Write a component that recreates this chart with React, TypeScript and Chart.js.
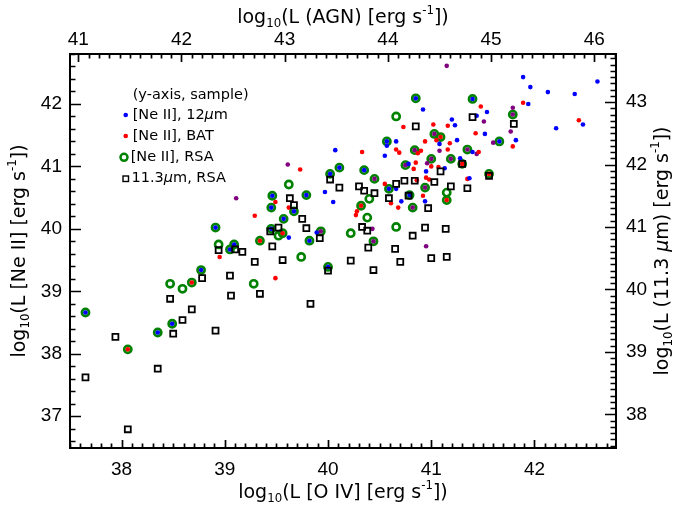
import React, { useEffect, useRef } from 'react';
import { Chart, registerables } from 'chart.js';

Chart.register(...registerables);

// ---------- axes ----------
const X_TICKS = [38, 39, 40, 41, 42];
const X2_TICKS = [41, 42, 43, 44, 45, 46];
const Y_TICKS = [37, 38, 39, 40, 41, 42];
const Y2_TICKS = [38, 39, 40, 41, 42, 43];

const X_MIN = 37.5, X_MAX = 42.79;
const X2_MIN = 40.92, X2_MAX = 46.21;
const Y_MIN = 36.49, Y_MAX = 42.8;
const Y2_MIN = 37.46, Y2_MAX = 43.77;

const X_TITLE = [{ t: 'log' }, { t: '10', k: 'sub' }, { t: '(L [O IV] [erg s' }, { t: '-1', k: 'sup' }, { t: '])' }];
const X2_TITLE = [{ t: 'log' }, { t: '10', k: 'sub' }, { t: '(L (AGN) [erg s' }, { t: '-1', k: 'sup' }, { t: '])' }];
const Y_TITLE = [{ t: 'log' }, { t: '10', k: 'sub' }, { t: '(L [Ne II] [erg s' }, { t: '-1', k: 'sup' }, { t: '])' }];
const Y2_TITLE = [{ t: 'log' }, { t: '10', k: 'sub' }, { t: '(L (11.3 ' }, { t: 'μ', k: 'it' }, { t: 'm) [erg s' }, { t: '-1', k: 'sup' }, { t: '])' }];

const LEGEND_TITLE = '(y-axis, sample)';
const LEGEND_12UM = [{ t: '[Ne II], 12' }, { t: 'μ', k: 'it' }, { t: 'm' }];
const LEGEND_BAT = [{ t: '[Ne II], BAT' }];
const LEGEND_RSA = [{ t: '[Ne II], RSA' }];
const LEGEND_PAH = [{ t: '11.3' }, { t: 'μ', k: 'it' }, { t: 'm, RSA' }];

// ---------- data: [log L(O IV), log L] ----------
// [Ne II], RSA sample (green rings)
const NEII_RSA: [number, number][] = [
  [37.65, 38.66], [38.06, 38.07], [38.35, 38.34], [38.47, 39.12], [38.49, 38.48], [38.59, 39.04],
  [38.68, 39.14], [38.77, 39.34], [38.94, 39.75], [38.91, 40.02], [39.05, 39.67], [39.09, 39.75],
  [39.46, 40.53], [39.79, 40.54], [39.45, 40.34], [39.67, 40.28], [39.57, 40.16], [39.45, 40.0],
  [39.52, 39.89], [39.56, 39.93], [39.93, 39.96], [39.82, 39.81], [39.34, 39.81], [39.74, 39.55],
  [40.0, 39.39], [39.28, 39.12], [39.62, 40.71], [40.02, 40.88], [40.11, 40.98], [40.85, 42.09],
  [41.4, 42.08], [40.66, 41.8], [41.03, 41.52], [41.09, 41.47], [40.57, 41.4], [40.84, 41.26],
  [41.35, 41.27], [41.0, 41.12], [41.19, 41.12], [40.75, 41.02], [41.3, 41.04], [40.35, 40.94],
  [40.45, 40.8], [40.59, 40.64], [40.94, 40.66], [40.4, 40.48], [40.79, 40.54], [40.82, 40.34],
  [41.15, 40.58], [41.15, 40.46], [40.32, 40.37], [40.38, 40.18], [40.66, 40.03], [40.22, 39.93],
  [40.44, 39.8], [41.79, 41.83], [41.66, 41.4], [41.56, 40.88],
];

// [Ne II], 12um sample (blue)
const NEII_12UM: [number, number][] = [
  [37.65, 38.66], [38.35, 38.34], [38.49, 38.48], [38.77, 39.34], [38.91, 40.02], [39.05, 39.67],
  [39.09, 39.75], [39.46, 40.53], [39.79, 40.54], [39.45, 40.34], [39.67, 40.28], [39.57, 40.16],
  [39.45, 40.0], [39.82, 39.81], [40.0, 39.39], [40.02, 40.88], [40.11, 40.98], [40.85, 42.09],
  [41.4, 42.08], [40.57, 41.4], [40.35, 40.94], [40.59, 40.64], [40.79, 40.54], [41.66, 41.4],
  [39.97, 40.59], [40.05, 40.43], [39.62, 39.86], [39.89, 39.94], [40.07, 41.26], [40.92, 41.91],
  [41.2, 41.75], [41.23, 41.66], [41.44, 41.81], [41.08, 41.36], [41.25, 41.42], [40.57, 41.33],
  [40.66, 41.4], [41.4, 41.23], [40.55, 41.17], [41.28, 41.13], [41.13, 40.97], [40.78, 41.04],
  [40.95, 40.92], [41.37, 40.81], [40.66, 40.64], [40.71, 40.44], [40.94, 40.44], [41.89, 42.43],
  [42.61, 42.36], [41.96, 42.27], [42.13, 42.19], [42.39, 42.16], [41.94, 42.0], [41.54, 41.87],
  [42.47, 41.67], [42.21, 41.61], [41.52, 41.52], [41.82, 41.42],
];

// [Ne II], BAT sample (red)
const NEII_BAT: [number, number][] = [
  [38.06, 38.07], [38.68, 39.14], [39.56, 39.93], [39.34, 39.81], [41.09, 41.47], [41.3, 41.04],
  [41.15, 40.46], [40.32, 40.37], [41.56, 40.88], [39.73, 40.95], [39.49, 40.43], [39.62, 40.34],
  [39.29, 40.21], [38.95, 39.55], [39.49, 39.21], [40.73, 41.63], [41.02, 41.67], [41.16, 41.65],
  [41.48, 41.96], [41.43, 41.53], [41.05, 41.42], [41.18, 41.37], [40.94, 41.4], [41.16, 41.27],
  [40.33, 41.23], [40.66, 41.27], [40.69, 41.22], [40.87, 41.21], [40.9, 41.25], [40.85, 41.06],
  [41.0, 41.0], [41.07, 40.99], [40.83, 40.96], [40.95, 40.82], [40.98, 40.79], [41.35, 40.8],
  [40.55, 40.72], [40.86, 40.78], [40.92, 40.53], [40.61, 40.41], [40.68, 40.34], [40.28, 40.28],
  [40.27, 40.22], [41.89, 42.02], [42.43, 41.74], [41.79, 41.32], [41.46, 41.23],
];

// [Ne II], in both 12um and BAT samples (purple)
const NEII_BOTH: [number, number][] = [
  [39.93, 39.96], [41.03, 41.52], [40.84, 41.26], [41.35, 41.27], [41.0, 41.12], [41.19, 41.12],
  [40.75, 41.02], [40.45, 40.8], [40.94, 40.66], [40.82, 40.34], [40.44, 39.8], [41.79, 41.83],
  [39.61, 41.03], [39.11, 40.49], [41.15, 42.61], [41.08, 41.25], [41.44, 41.2], [40.96, 41.05],
  [40.43, 40.0], [40.95, 39.72], [41.79, 41.94], [41.51, 41.72], [41.77, 41.56], [41.6, 41.38],
];

// 11.3um PAH, RSA sample (squares, right axis)
const PAH_RSA: [number, number][] = [
  [37.65, 38.59], [37.94, 39.24], [38.06, 37.76], [38.35, 38.73], [38.47, 39.85], [38.5, 39.29],
  [38.59, 39.51], [38.68, 39.68], [38.78, 40.18], [38.91, 39.34], [38.94, 40.63], [39.05, 40.22],
  [39.06, 39.9], [40.02, 41.76], [40.11, 41.63], [39.63, 41.46], [39.67, 41.35], [39.75, 41.13],
  [39.44, 40.93], [39.52, 40.99], [39.79, 40.98], [39.92, 40.82], [39.1, 40.64], [39.17, 40.6],
  [39.46, 40.69], [39.56, 40.47], [39.29, 40.44], [40.0, 40.3], [39.34, 39.93], [39.83, 39.77],
  [40.85, 42.61], [41.4, 42.76], [41.3, 42.01], [41.09, 41.89], [40.3, 41.65], [40.35, 41.58],
  [40.45, 41.54], [40.59, 41.46], [40.66, 41.69], [40.74, 41.74], [40.84, 41.74], [41.03, 41.72],
  [41.19, 41.65], [41.35, 41.62], [40.78, 41.5], [40.97, 41.3], [40.33, 41.0], [40.38, 40.94],
  [40.94, 40.99], [41.14, 40.97], [40.82, 40.86], [40.39, 40.67], [40.65, 40.65], [40.22, 40.46],
  [40.7, 40.44], [41.0, 40.5], [41.15, 40.52], [40.44, 40.31], [41.8, 42.65], [41.56, 41.82],
];

// ---------- styles ----------
const BLUE = '#0000ff';
const RED = '#ff0000';
const PURPLE = '#800080';
const GREEN = '#008200';
const TICK_FONT = 'Liberation Sans';
const TITLE_FONT = 'DejaVu Sans';

type Seg = { t: string; k?: string };

function drawRich(ctx: CanvasRenderingContext2D, segs: Seg[], x: number, y: number, size: number, align: 'center' | 'left', rotate: boolean) {
  const fontFor = (k?: string) =>
    k === 'sub' || k === 'sup' ? `${size * 0.62}px "${TITLE_FONT}"` : k === 'it' ? `italic ${size}px "${TITLE_FONT}"` : `${size}px "${TITLE_FONT}"`;
  const widths = segs.map((s) => {
    ctx.font = fontFor(s.k);
    return ctx.measureText(s.t).width;
  });
  const total = widths.reduce((a, b) => a + b, 0);
  ctx.save();
  ctx.translate(x, y);
  if (rotate) ctx.rotate(-Math.PI / 2);
  ctx.textBaseline = 'middle';
  ctx.textAlign = 'left';
  ctx.fillStyle = '#000';
  let cx = align === 'center' ? -total / 2 : 0;
  segs.forEach((s, i) => {
    ctx.font = fontFor(s.k);
    const dy = s.k === 'sub' ? size * 0.3 : s.k === 'sup' ? -size * 0.36 : 0;
    ctx.fillText(s.t, cx, dy);
    cx += widths[i];
  });
  ctx.restore();
}

const framePlugin = {
  id: 'idlFrame',
  afterDraw(chart: any) {
    const ctx: CanvasRenderingContext2D = chart.ctx;
    const { left, right, top, bottom } = chart.chartArea;
    ctx.save();
    ctx.strokeStyle = '#000';
    ctx.lineWidth = 2;
    ctx.strokeRect(left, top, right - left, bottom - top);

    ctx.lineWidth = 1.7;
    const ticks = (scale: any, step: number, perMajor: number, majLen: number, minLen: number, side: string) => {
      const i0 = Math.ceil(scale.min / step - 1e-6);
      const i1 = Math.floor(scale.max / step + 1e-6);
      ctx.beginPath();
      for (let i = i0; i <= i1; i++) {
        const v = i * step;
        const len = i % perMajor === 0 ? majLen : minLen;
        const p = Math.round(scale.getPixelForValue(v)) + 0.5;
        if (side === 'bottom') { ctx.moveTo(p, bottom); ctx.lineTo(p, bottom - len); }
        if (side === 'top') { ctx.moveTo(p, top); ctx.lineTo(p, top + len); }
        if (side === 'left') { ctx.moveTo(left, p); ctx.lineTo(left + len, p); }
        if (side === 'right') { ctx.moveTo(right, p); ctx.lineTo(right - len, p); }
      }
      ctx.stroke();
    };
    ticks(chart.scales.x, 0.1, 10, 8, 4.5, 'bottom');
    ticks(chart.scales.x2, 0.1, 10, 8, 4.5, 'top');
    ticks(chart.scales.y, 0.2, 5, 11, 5.5, 'left');
    ticks(chart.scales.y2, 0.1, 10, 11, 5.5, 'right');

    const cxm = (left + right) / 2;
    const cym = (top + bottom) / 2;
    drawRich(ctx, X_TITLE, cxm, 493, 19, 'center', false);
    drawRich(ctx, X2_TITLE, cxm, 18, 19, 'center', false);
    drawRich(ctx, Y_TITLE, 20, cym, 19, 'center', true);
    drawRich(ctx, Y2_TITLE, 663, cym, 19, 'center', true);

    // legend
    const lx = 132.7;
    drawRich(ctx, [{ t: LEGEND_TITLE }], lx, 95.7, 14.5, 'left', false);
    ctx.fillStyle = BLUE;
    ctx.beginPath(); ctx.arc(125.7, 115, 2.3, 0, Math.PI * 2); ctx.fill();
    drawRich(ctx, LEGEND_12UM, lx, 115, 14.5, 'left', false);
    ctx.fillStyle = RED;
    ctx.beginPath(); ctx.arc(125.7, 136, 2.3, 0, Math.PI * 2); ctx.fill();
    drawRich(ctx, LEGEND_BAT, lx, 136, 14.5, 'left', false);
    ctx.strokeStyle = GREEN;
    ctx.lineWidth = 2.5;
    ctx.beginPath(); ctx.arc(124, 157.3, 3.5, 0, Math.PI * 2); ctx.stroke();
    drawRich(ctx, LEGEND_RSA, 130.7, 157.3, 14.5, 'left', false);
    ctx.strokeStyle = '#000';
    ctx.lineWidth = 1.4;
    ctx.strokeRect(123, 176, 5.5, 5.5);
    drawRich(ctx, LEGEND_PAH, 131.5, 178.7, 14.5, 'left', false);
    ctx.restore();
  },
};

const toPts = (a: [number, number][]) => a.map(([x, y]) => ({ x, y }));

const tickOpts = (padding: number) => ({
  color: '#000',
  font: { family: TICK_FONT, size: 19 },
  padding,
  autoSkip: false,
  maxRotation: 0,
  minRotation: 0,
});

const setTicks = (vals: number[]) => (scale: any) => {
  scale.ticks = vals.map((v) => ({ value: v }));
};

export default function App() {
  const ref = useRef<HTMLCanvasElement>(null);
  useEffect(() => {
    const chart = new Chart(ref.current as HTMLCanvasElement, {
      type: 'scatter',
      data: {
        datasets: [
          {
            label: '11.3um, RSA', data: toPts(PAH_RSA), yAxisID: 'y2', xAxisID: 'x',
            pointStyle: 'rect', pointRadius: 4.2, borderWidth: 1.8, borderColor: '#000', backgroundColor: 'rgba(0,0,0,0)',
          },
          {
            label: '[Ne II], 12um', data: toPts(NEII_12UM), yAxisID: 'y', xAxisID: 'x',
            pointRadius: 2.3, borderWidth: 0, backgroundColor: BLUE, borderColor: BLUE,
          },
          {
            label: '[Ne II], BAT', data: toPts(NEII_BAT), yAxisID: 'y', xAxisID: 'x',
            pointRadius: 2.3, borderWidth: 0, backgroundColor: RED, borderColor: RED,
          },
          {
            label: '[Ne II], 12um+BAT', data: toPts(NEII_BOTH), yAxisID: 'y', xAxisID: 'x',
            pointRadius: 2.3, borderWidth: 0, backgroundColor: PURPLE, borderColor: PURPLE,
          },
          {
            label: '[Ne II], RSA', data: toPts(NEII_RSA), yAxisID: 'y', xAxisID: 'x',
            pointRadius: 3.6, borderWidth: 2.6, borderColor: GREEN, backgroundColor: 'rgba(0,0,0,0)',
          },
        ],
      },
      options: {
        animation: false,
        responsive: false,
        devicePixelRatio: 1,
        layout: { padding: 0 },
        plugins: { legend: { display: false }, tooltip: { enabled: false } },
        events: [],
        scales: {
          x: {
            type: 'linear', position: 'bottom', min: X_MIN, max: X_MAX,
            grid: { display: false, drawTicks: false }, border: { display: false },
            ticks: tickOpts(10),
            afterBuildTicks: setTicks(X_TICKS),
            afterFit: (s: any) => { s.height = 72; },
          },
          x2: {
            type: 'linear', position: 'top', min: X2_MIN, max: X2_MAX, display: true,
            grid: { display: false, drawTicks: false }, border: { display: false },
            ticks: tickOpts(3),
            afterBuildTicks: setTicks(X2_TICKS),
            afterFit: (s: any) => { s.height = 54; },
          },
          y: {
            type: 'linear', position: 'left', min: Y_MIN, max: Y_MAX,
            grid: { display: false, drawTicks: false }, border: { display: false },
            ticks: tickOpts(8),
            afterBuildTicks: setTicks(Y_TICKS),
            afterFit: (s: any) => { s.width = 70; },
          },
          y2: {
            type: 'linear', position: 'right', min: Y2_MIN, max: Y2_MAX, display: true,
            grid: { display: false, drawTicks: false }, border: { display: false },
            ticks: tickOpts(10),
            afterBuildTicks: setTicks(Y2_TICKS),
            afterFit: (s: any) => { s.width = 67; },
          },
        },
      } as any,
      plugins: [framePlugin],
    });
    return () => chart.destroy();
  }, []);

  return (
    <div style={{ position: 'fixed', left: 0, top: 0, width: 683, height: 520, background: '#fff' }}>
      <canvas ref={ref} width={683} height={520} style={{ display: 'block', width: 683, height: 520 }} />
    </div>
  );
}
